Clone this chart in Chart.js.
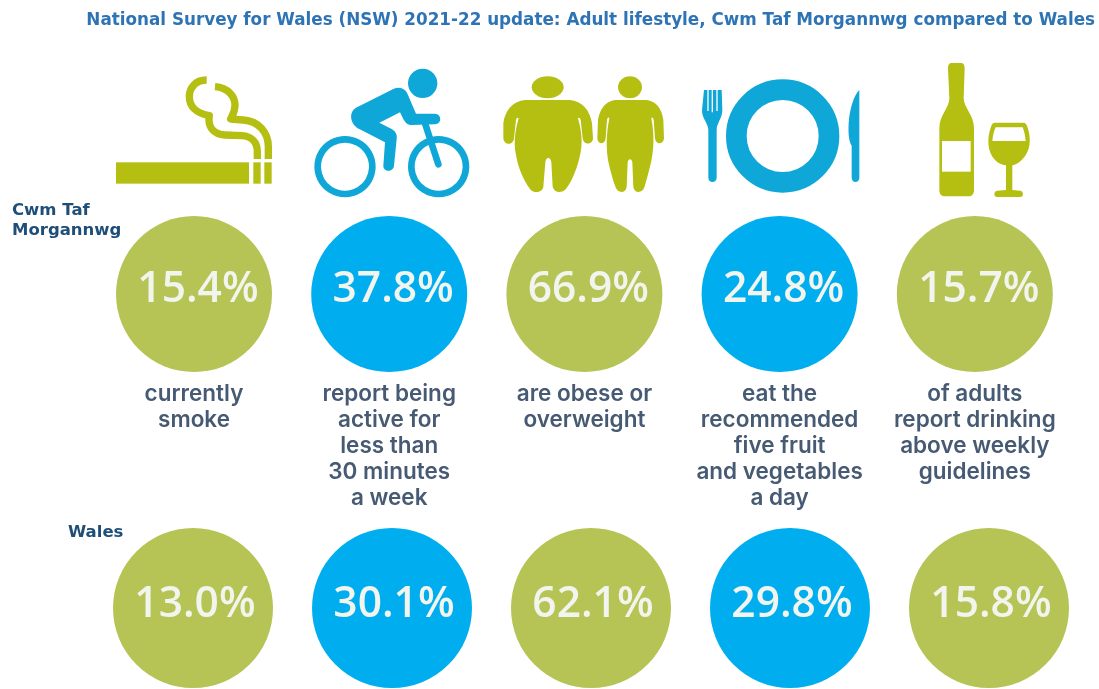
<!DOCTYPE html>
<html>
<head>
<meta charset="utf-8">
<title>Adult lifestyle</title>
<script src="https://cdn.jsdelivr.net/npm/chart.js@4/dist/chart.umd.min.js"></script>
<style>
html,body{margin:0;padding:0;background:#fff;}
#wrap{width:1099px;height:689px;}
</style>
</head>
<body>
<div id="wrap"><canvas id="grafico" width="1099" height="689"></canvas></div>
<script>
var TITULO = "National Survey for Wales (NSW) 2021-22 update: Adult lifestyle, Cwm Taf Morgannwg compared to Wales";
var CATEGORIAS = [
	["currently","smoke"],
	["report being","active for","less than","30 minutes","a week"],
	["are obese or","overweight"],
	["eat the","recommended","five fruit","and vegetables","a day"],
	["of adults","report drinking","above weekly","guidelines"]
];
var CWM_TAF = [15.4, 37.8, 66.9, 24.8, 15.7];
var WALES = [13.0, 30.1, 62.1, 29.8, 15.8];
var NOMBRE_CWM = ["Cwm Taf","Morgannwg"];
var NOMBRE_WALES = ["Wales"];

var VERDE = "#b5c455", AZUL = "#00aeef";
var VERDE_ICONO = "#b5bf12", AZUL_ICONO = "#0ea7d8";
var COLORES = [VERDE, AZUL, VERDE, AZUL, VERDE];
var ALTO_TITULO = 36;
var MARGEN_DER = 4;

// maps a category index to the canvas so that index 0 sits at px and the step is paso
function rangoX(px, paso){
	var min = -px/paso;
	return {min:min, max:min+(1099-MARGEN_DER)/paso};
}
var rx1 = rangoX(194, 195.2), rx2 = rangoX(193, 199);

function puntos(valores, fila){
	return valores.map(function(v,i){ return {x:i, y:fila, valor:v}; });
}

// pictograms, drawn with paths in a 3x grid relative to an origin
function grupo(ctx, ox, oy, fn){
	ctx.save();
	ctx.translate(ox, oy);
	ctx.scale(1/3, 1/3);
	fn(ctx);
	ctx.restore();
}
function trazo(ctx, d, color, ancho, cap){
	ctx.strokeStyle = color;
	ctx.lineWidth = ancho;
	ctx.lineCap = cap || "butt";
	ctx.lineJoin = "round";
	ctx.stroke(new Path2D(d));
}
function relleno(ctx, d, color){
	ctx.fillStyle = color;
	ctx.fill(new Path2D(d));
}
function circulo(ctx, x, y, r, color){
	ctx.fillStyle = color;
	ctx.beginPath();
	ctx.arc(x, y, r, 0, Math.PI*2);
	ctx.fill();
}
function iconos(ctx){
	grupo(ctx, 100, 55, function(c){
		// cigarette
		c.fillStyle = VERDE_ICONO;
		c.fillRect(48,322,399,64);
		c.fillRect(460,322,22,64);
		c.fillRect(493,322,22,64);
		trazo(c,"M320 75 C285 75 268 100 268 125 C268 155 290 175 328 182 C322 215 340 238 375 240 L425 242 C455 244 472 262 472 290 L472 312",VERDE_ICONO,22);
		trazo(c,"M345 95 C385 98 405 125 405 150 C405 170 398 180 392 192 L430 195 C475 198 505 232 505 275 L505 312",VERDE_ICONO,22);
		// cyclist
		circulo(c,968,85,44,AZUL_ICONO);
		trazo(c,"M735 253 a82 82 0 1 0 0.01 0",AZUL_ICONO,20);
		trazo(c,"M1016 253 a82 82 0 1 0 0.01 0",AZUL_ICONO,20);
		relleno(c,"M768 158 L880 102 C900 92 918 102 924 120 L948 176 L1005 176 C1026 178 1026 206 1005 208 L935 210 C922 210 915 202 908 188 L900 172 L838 203 L875 222 C888 230 892 240 890 252 L882 332 C880 352 850 352 850 332 L855 262 L778 222 C750 208 745 172 768 158 Z",AZUL_ICONO);
		trazo(c,"M975 205 L1015 328",AZUL_ICONO,20,"round");
	});
	grupo(ctx, 490, 55, function(c){
		// two figures
		c.fillStyle = VERDE_ICONO;
		c.beginPath(); c.ellipse(173,97,48,33,0,0,Math.PI*2); c.fill();
		c.beginPath(); c.ellipse(420,97,36,33,0,0,Math.PI*2); c.fill();
		relleno(c,"M105 135 L240 135 C275 138 300 165 306 205 L309 250 C308 270 280 272 278 250 L272 195 C270 188 266 186 264 190 C275 230 280 265 268 310 C258 350 243 385 225 405 C212 415 192 412 188 395 L184 322 C182 305 168 305 166 322 L160 395 C158 412 132 418 120 402 C100 375 85 340 78 300 C70 260 76 225 86 190 C84 186 80 188 78 195 L72 250 C70 272 42 272 40 250 L40 205 C45 165 70 138 105 135 Z",VERDE_ICONO);
		relleno(c,"M375 135 L470 135 C498 138 515 160 520 195 L522 250 C520 270 497 270 495 250 L491 195 C489 187 486 186 484 190 C494 240 492 290 480 335 C472 365 467 385 462 400 C454 416 432 414 430 395 L427 322 C425 310 415 310 413 322 L410 395 C408 414 386 416 378 400 C370 380 363 355 356 325 C348 285 348 240 358 190 C356 186 353 187 351 195 L347 250 C345 270 323 270 322 250 L324 195 C330 160 348 138 375 135 Z",VERDE_ICONO);
		// fork
		relleno(c,"M642 105 L695 105 L697 165 C697 190 680 205 680 225 L680 368 C680 385 655 385 655 368 L655 225 C655 205 635 190 636 165 Z",AZUL_ICONO);
		trazo(c,"M654 100 L654 168",'#fff',4);
		trazo(c,"M667 100 L667 172",'#fff',4);
		trazo(c,"M681 100 L681 168",'#fff',4);
		// plate
		c.strokeStyle = AZUL_ICONO; c.lineWidth = 62;
		c.beginPath(); c.arc(878,243,139,0,Math.PI*2); c.stroke();
		// knife
		relleno(c,"M1108 105 L1108 368 C1108 385 1085 385 1085 368 L1085 272 C1078 262 1074 240 1076 205 C1079 160 1092 120 1108 105 Z",AZUL_ICONO);
	});
	grupo(ctx, 880, 55, function(c){
		// bottle and glass
		relleno(c,"M215 24 L243 24 C252 24 254 32 254 40 L251 130 C252 160 282 180 282 220 L282 405 C282 418 275 424 265 424 L195 424 C185 424 178 418 178 405 L178 220 C178 180 208 160 208 130 L204 40 C204 32 206 24 215 24 Z",VERDE_ICONO);
		c.fillStyle = "#fff";
		c.fillRect(186,258,86,92);
		relleno(c,"M345 203 L430 203 C437 203 440 208 442 215 C455 250 452 290 425 315 C415 325 405 329 397 331 L397 405 L420 407 C432 408 432 426 420 426 L352 426 C340 426 340 408 352 407 L378 405 L378 331 C365 329 355 325 345 315 C322 290 320 250 333 215 C335 208 338 203 345 203 Z",VERDE_ICONO);
		relleno(c,"M347 217 L428 217 C433 230 436 245 437 258 L337 258 C338 245 341 230 347 217 Z","#fff");
	});
}

var pluginTextos = {
	id:"textos",
	beforeDatasetsDraw:function(chart){
		iconos(chart.ctx);
	},
	afterDatasetsDraw:function(chart){
		var ctx = chart.ctx;
		var sx = chart.scales.x, sy = chart.scales.y;
		ctx.save();
		ctx.textAlign = "center";
		ctx.textBaseline = "middle";
		// values inside the circles
		chart.data.datasets.forEach(function(ds,d){
			var meta = chart.getDatasetMeta(d);
			ctx.font = "600 42.5px 'Open Sans'";
			ctx.fillStyle = "#f2f4ee";
			meta.data.forEach(function(el,i){
				ctx.fillText(ds.data[i].valor.toFixed(1)+"%", el.x+(d==0?4:2), el.y-(d==0?4:3));
			});
		});
		// category text between the two rows
		ctx.font = "600 22.5px Inter";
		ctx.fillStyle = "#475a73";
		CATEGORIAS.forEach(function(lineas,i){
			lineas.forEach(function(t,j){
				ctx.fillText(t, sx.getPixelForValue(i), sy.getPixelForValue(0)+100+j*26);
			});
		});
		// row names
		ctx.textAlign = "left";
		ctx.font = "bold 16.5px 'DejaVu Sans'";
		ctx.fillStyle = "#1f4e79";
		NOMBRE_CWM.forEach(function(t,j){
			ctx.fillText(t, 12, sy.getPixelForValue(0)-83+j*20);
		});
		NOMBRE_WALES.forEach(function(t){
			ctx.fillText(t, 68, sy.getPixelForValue(1)-75);
		});
		ctx.restore();
	}
};

var config = {
	type:"bubble",
	data:{
		datasets:[
			{label:NOMBRE_CWM.join(" "), data:puntos(CWM_TAF,0), backgroundColor:COLORES, borderWidth:0, radius:78, xAxisID:"x", clip:false},
			{label:NOMBRE_WALES[0], data:puntos(WALES,1), backgroundColor:COLORES, borderWidth:0, radius:80, xAxisID:"x2", clip:false}
		]
	},
	options:{
		responsive:false,
		animation:false,
		layout:{padding:{right:MARGEN_DER}, autoPadding:false},
		plugins:{
			legend:{display:false},
			tooltip:{enabled:false},
			title:{
				display:true,
				text:TITULO,
				align:"end",
				color:"#2e74b5",
				font:{family:"'DejaVu Sans'", size:16.8, weight:"bold"},
				padding:{top:11,bottom:5}
			}
		},
		scales:{
			x:{type:"linear", display:false, bounds:"data", min:rx1.min, max:rx1.max},
			x2:{type:"linear", axis:"x", display:false, bounds:"data", min:rx2.min, max:rx2.max},
			y:{type:"linear", display:false, bounds:"data", reverse:true,
				min:-(294-ALTO_TITULO)/314, max:(689-294)/314}
		}
	},
	plugins:[pluginTextos]
};
new Chart(document.getElementById("grafico").getContext("2d"), config);
</script>
</body>
</html>
